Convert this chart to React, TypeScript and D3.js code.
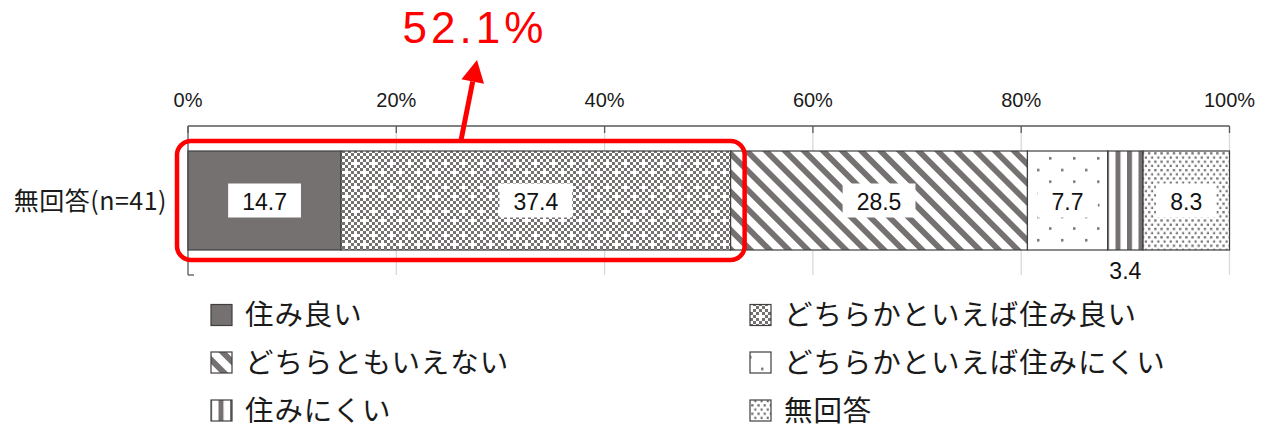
import React from 'react';
import * as d3 from 'd3';

const categories = ['無回答(n=41)'];
const seriesNames = [
  '住み良い',
  'どちらかといえば住み良い',
  'どちらともいえない',
  'どちらかといえば住みにくい',
  '住みにくい',
  '無回答',
];
const values = [14.7, 37.4, 28.5, 7.7, 3.4, 8.3];
const tickValues = [0, 20, 40, 60, 80, 100];
const tickLabels = ['0%', '20%', '40%', '60%', '80%', '100%'];
const highlightCount = 2;

const W = 1262;
const H = 432;
const GRAY = '#767171';
const BORDER = '#3f3f3f';
const NUM_FONT = '"Liberation Sans", Arial, sans-serif';
const JP_FONT = '"Noto Sans CJK JP", "Noto Sans", sans-serif';

const patternIds = ['p-solid', 'p-checker', 'p-diag', 'p-sparse', 'p-vert', 'p-dense'];

function Patterns() {
  const checkerCells: JSX.Element[] = [];
  const spots = new Set(['1,1', '4,6']);
  for (let i = 0; i < 6; i++) {
    for (let j = 0; j < 8; j++) {
      if ((i + j) % 2 === 0 && !spots.has(`${i},${j}`)) {
        checkerCells.push(<rect key={`${i}-${j}`} x={i * 3} y={j * 3} width={3} height={3} fill={GRAY} />);
      }
    }
  }
  return (
    <defs>
      <pattern id="p-solid" patternUnits="userSpaceOnUse" width={4} height={4}>
        <rect width={4} height={4} fill={GRAY} />
      </pattern>
      <pattern id="p-checker" patternUnits="userSpaceOnUse" width={18} height={24}>
        <rect width={18} height={24} fill="#fff" />
        {checkerCells}
      </pattern>
      <pattern id="p-diag" patternUnits="userSpaceOnUse" width={13.5} height={13.5} patternTransform="rotate(-45)">
        <rect width={13.5} height={13.5} fill="#fff" />
        <rect width={5.8} height={13.5} fill={GRAY} />
      </pattern>
      <pattern id="p-sparse" patternUnits="userSpaceOnUse" width={24} height={23.4}>
        <rect width={24} height={23.4} fill="#fff" />
        <rect x={5} y={5} width={2.5} height={2.5} fill={GRAY} />
        <rect x={17} y={16.7} width={2.5} height={2.5} fill={GRAY} />
      </pattern>
      <pattern id="p-vert" patternUnits="userSpaceOnUse" width={11.5} height={10}>
        <rect width={11.5} height={10} fill="#fff" />
        <rect x={0} width={5} height={10} fill={GRAY} />
      </pattern>
      <pattern id="p-dense" patternUnits="userSpaceOnUse" width={6.2} height={8.4}>
        <rect width={6.2} height={8.4} fill="#fff" />
        <rect x={1} y={1} width={2.3} height={2.3} fill={GRAY} />
        <rect x={4.1} y={5.2} width={2.3} height={2.3} fill={GRAY} />
      </pattern>
    </defs>
  );
}

export default function App() {
  const x = d3.scaleLinear().domain([0, 100]).range([188, 1229.5]);
  const y = d3.scaleBand<string>().domain(categories).range([126, 275]).paddingInner(0).paddingOuter(0.2525);
  const bw = y.bandwidth();
  const axisTop = y.range()[0];
  const axisBottom = y.range()[1];

  const starts: number[] = [];
  values.reduce((acc, v) => {
    starts.push(acc);
    return acc + v;
  }, 0);

  const highlightSum = d3.sum(values.slice(0, highlightCount));
  const cat = categories[0];
  const by = y(cat) as number;

  // annotation geometry derived from scales
  const hlX0 = x(0) - 11;
  const hlX1 = x(highlightSum) + 14;
  const hlY0 = by - 10;
  const hlY1 = by + bw + 10;
  const arrowBase: [number, number] = [x(26.2), hlY0];
  const arrowTip: [number, number] = [x(27.75), 60];
  const dx = arrowTip[0] - arrowBase[0];
  const dy = arrowTip[1] - arrowBase[1];
  const len = Math.hypot(dx, dy);
  const ux = dx / len, uy = dy / len;
  const nx = -uy, ny = ux;
  const headLen = 22, headHalf = 11.5;
  const hb: [number, number] = [arrowTip[0] - headLen * ux, arrowTip[1] - headLen * uy];
  const headPts = [
    arrowTip,
    [hb[0] + headHalf * nx, hb[1] + headHalf * ny],
    [hb[0] - headHalf * nx, hb[1] - headHalf * ny],
  ].map((p) => p.join(',')).join(' ');

  const legendCols = [211, 750];
  const legendRows = [315, 362.5, 410.5];
  const VFS = 23;

  return (
    <svg width={W} height={H} style={{ position: 'absolute', left: 0, top: 0, background: '#fff' }}>
      <Patterns />
      <rect width={W} height={H} fill="#fff" />

      {/* gridlines */}
      {tickValues.slice(1).map((t) => (
        <line key={`g${t}`} x1={x(t)} x2={x(t)} y1={axisTop} y2={axisBottom} stroke="#d9d9d9" strokeWidth={1.3} />
      ))}
      {/* top axis */}
      <line x1={x(0)} x2={x(100)} y1={axisTop} y2={axisTop} stroke="#595959" strokeWidth={1.3} />
      {tickValues.map((t) => (
        <line key={`t${t}`} x1={x(t)} x2={x(t)} y1={axisTop} y2={axisTop + 7} stroke="#595959" strokeWidth={1.3} />
      ))}
      {/* category axis */}
      <line x1={x(0)} x2={x(0)} y1={axisTop} y2={axisBottom} stroke="#595959" strokeWidth={1.3} />
      <line x1={x(0)} x2={x(0) + 6} y1={axisBottom} y2={axisBottom} stroke="#595959" strokeWidth={1.3} />
      {tickValues.map((t, i) => (
        <text key={`tl${t}`} x={x(t)} y={107} textAnchor="middle" fontFamily={NUM_FONT} fontSize={20} fill="#1a1a1a">
          {tickLabels[i]}
        </text>
      ))}

      {/* category label */}
      <text x={167} y={by + bw / 2 + 9} textAnchor="end" fontFamily={JP_FONT} fontSize={25} letterSpacing={0.5} fill="#1a1a1a">
        {cat}
      </text>

      {/* bars */}
      {values.map((v, i) => (
        <rect
          key={`b${i}`}
          x={x(starts[i])}
          y={by}
          width={x(starts[i] + v) - x(starts[i])}
          height={bw}
          fill={`url(#${patternIds[i]})`}
          stroke={BORDER}
          strokeWidth={1.2}
        />
      ))}

      {/* value labels */}
      {values.map((v, i) => {
        const label = v.toFixed(1);
        const cx = x(starts[i] + v / 2);
        const seg = x(starts[i] + v) - x(starts[i]);
        const tw = label.split('').reduce((a, c) => a + (c === '.' ? 0.278 : 0.556), 0) * 22;
        const boxW = tw + 30;
        if (seg < boxW - 20) {
          return (
            <text key={`v${i}`} x={cx} y={by + bw + 29} textAnchor="middle" fontFamily={NUM_FONT} fontSize={VFS} fill="#111">
              {label}
            </text>
          );
        }
        return (
          <g key={`v${i}`}>
            <rect x={cx - boxW / 2} y={by + bw / 2 - 17} width={boxW} height={34} fill="#fff" />
            <text x={cx} y={by + bw / 2 + 9} textAnchor="middle" fontFamily={NUM_FONT} fontSize={VFS} fill="#111">
              {label}
            </text>
          </g>
        );
      })}

      {/* highlight annotation */}
      <rect x={hlX0} y={hlY0} width={hlX1 - hlX0} height={hlY1 - hlY0} rx={14} ry={14} fill="none" stroke="#ff0000" strokeWidth={4.5} />
      <line x1={arrowBase[0]} y1={arrowBase[1]} x2={hb[0]} y2={hb[1]} stroke="#ff0000" strokeWidth={5} />
      <polygon points={headPts} fill="#ff0000" />
      <text x={475} y={43} textAnchor="middle" fontFamily={NUM_FONT} fontSize={44} fill="#ff0000" letterSpacing={4}>
        {`${highlightSum.toFixed(1)}%`}
      </text>

      {/* legend */}
      {seriesNames.map((name, i) => {
        const lx = legendCols[i % 2];
        const ly = legendRows[Math.floor(i / 2)];
        return (
          <g key={`l${i}`}>
            <rect x={lx} y={ly - 10.5} width={21} height={21} fill={`url(#${patternIds[i]})`} stroke={BORDER} strokeWidth={1.2} />
            <text x={lx + 34} y={ly + 10} fontFamily={JP_FONT} fontSize={28.5} letterSpacing={0.9} fill="#1a1a1a">
              {name}
            </text>
          </g>
        );
      })}
    </svg>
  );
}
